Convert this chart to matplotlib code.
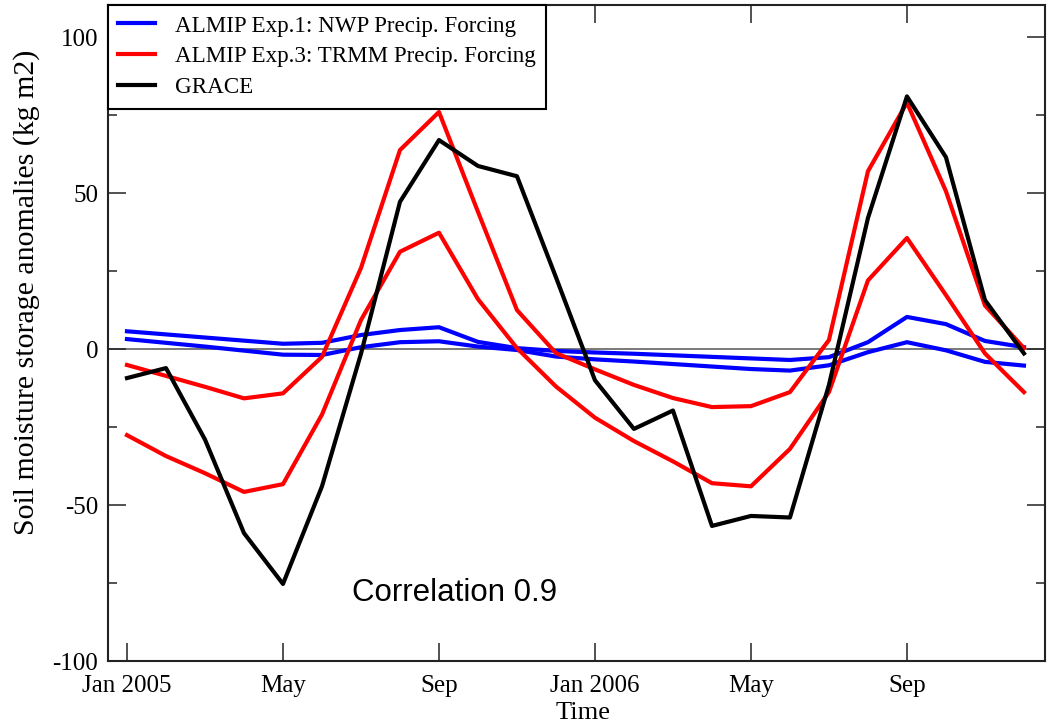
import matplotlib
matplotlib.use("Agg")
import matplotlib.pyplot as plt
from matplotlib.ticker import FixedLocator

plt.rcParams["axes.unicode_minus"] = False

# ---- data (monthly, Jan 2005 .. Dec 2006) ----
month_index = [0, 1, 2, 3, 4, 5, 6, 7, 8, 9, 10, 11,
               12, 13, 14, 15, 16, 17, 18, 19, 20, 21, 22, 23]

nwp_a = [5.7, 4.7, 3.7, 2.7, 1.7, 2.0, 4.5, 6.1, 7.0, 2.3, 0.3, -0.6,
         -1.1, -1.5, -2.0, -2.5, -3.0, -3.5, -2.6, 2.2, 10.3, 8.0, 2.6, 0.6]
nwp_b = [3.2, 2.0, 0.8, -0.5, -1.8, -1.9, 0.6, 2.2, 2.5, 0.8, -0.3, -2.4,
         -3.3, -4.0, -4.8, -5.6, -6.4, -6.9, -5.2, -1.0, 2.2, -0.4, -4.1, -5.3]

trmm_a = [-5.1, -8.6, -12.1, -15.8, -14.2, -2.5, 26.0, 63.8, 76.0, 44.0, 12.5, -1.3,
          -6.5, -11.5, -15.7, -18.6, -18.3, -13.8, 2.9, 57.0, 79.0, 50.6, 14.0, 0.3]
trmm_b = [-27.6, -34.3, -39.8, -45.8, -43.3, -21.0, 9.3, 31.2, 37.3, 16.0, 0.3, -12.0,
          -22.0, -29.5, -36.0, -43.0, -44.0, -32.0, -13.8, 22.0, 35.6, 17.3, -1.4, -13.8]

grace = [-9.3, -6.1, -29.0, -59.0, -75.3, -44.0, -1.5, 47.2, 67.0, 58.7, 55.4, 23.0,
         -10.0, -25.6, -19.7, -56.7, -53.5, -54.0, -11.5, 42.0, 81.0, 61.5, 15.7, -1.4]

tick_positions = [0, 4, 8, 12, 16, 20]
tick_labels = ["Jan 2005", "May", "Sep", "Jan 2006", "May", "Sep"]

labels = ["ALMIP Exp.1: NWP Precip. Forcing",
          "ALMIP Exp.3: TRMM Precip. Forcing",
          "GRACE"]

serif = "Liberation Serif"

fig = plt.figure(figsize=(10.5, 7.27), dpi=100)
ax = fig.add_axes([108/1050, 1-661/727, (1045-108)/1050, (661-5)/727])

ax.axhline(0, color="#555555", lw=1.1, zorder=1)

lw = 3.0
ax.plot(month_index, nwp_a, color="#0000ff", lw=lw, label=labels[0], zorder=2)
ax.plot(month_index, nwp_b, color="#0000ff", lw=lw, zorder=2)
ax.plot(month_index, trmm_a, color="#ff0000", lw=lw, label=labels[1], zorder=3)
ax.plot(month_index, trmm_b, color="#ff0000", lw=lw, zorder=3)
ax.plot(month_index, grace, color="#000000", lw=lw, label=labels[2], zorder=4)

ax.set_xlim(-0.487, 23.54)
ax.set_ylim(-100, 110.3)

ax.xaxis.set_major_locator(FixedLocator(tick_positions))
ax.set_xticklabels(tick_labels)
ax.yaxis.set_major_locator(FixedLocator([-100, -50, 0, 50, 100]))
ax.yaxis.set_minor_locator(FixedLocator([-75, -25, 25, 75]))

for s in ax.spines.values():
    s.set_linewidth(1.5)
    s.set_color("#222222")

ax.tick_params(which="major", direction="in", length=13, width=1.1, color="#222222",
               top=True, right=True, labelsize=18)
ax.tick_params(axis="x", which="major", pad=10)
ax.tick_params(axis="y", which="major", pad=7)
ax.tick_params(which="minor", direction="in", length=6.5, width=1.1, color="#222222",
               top=False, right=True, left=True)
for t in ax.get_xticklabels() + ax.get_yticklabels():
    t.set_fontfamily(serif)

ax.set_xlabel("Time", fontfamily=serif, fontsize=19, va="center")
ax.xaxis.set_label_coords((583-108)/937, (661-713)/656)
ax.set_ylabel("Soil moisture storage anomalies (kg m2)", fontfamily=serif, fontsize=21.5,
              va="center")
ax.yaxis.set_label_coords((27-108)/937, (661-292)/656)

ax.text(5.77, -78.2, "Correlation 0.9", fontfamily="Liberation Sans", fontsize=22.5,
        ha="left", va="center", color="black")

leg = ax.legend(loc="upper left", borderaxespad=0, fancybox=False, framealpha=1,
                edgecolor="black", prop={"family": serif, "size": 16.6},
                handlelength=1.6, handletextpad=0.85, labelspacing=0.42, borderpad=0.45)
leg.get_frame().set_linewidth(1.5)

fig.savefig("out.png", dpi=100)
